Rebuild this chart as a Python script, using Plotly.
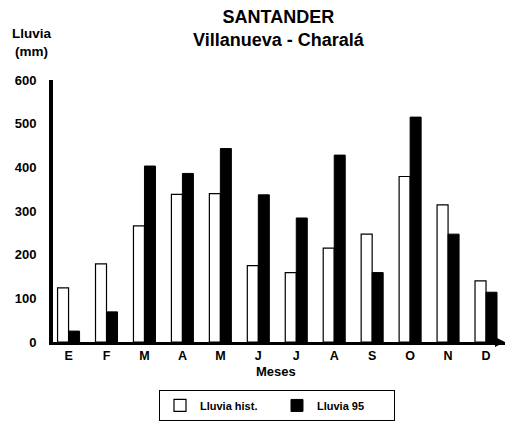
import plotly.graph_objects as go

meses = ["E", "F", "M", "A", "M", "J", "J", "A", "S", "O", "N", "D"]
lluvia_hist = [124, 179, 266, 338, 340, 175, 159, 215, 247, 379, 314, 140]
lluvia_95 = [25, 69, 403, 386, 443, 337, 284, 428, 159, 515, 247, 114]
y_ticks = [0, 100, 200, 300, 400, 500, 600]

x = list(range(len(meses)))
FONT = "Liberation Sans, Arial, sans-serif"

fig = go.Figure()
fig.add_trace(go.Bar(x=x, y=lluvia_hist, name="Lluvia hist.",
                     marker=dict(color="white", line=dict(color="black", width=1.2))))
fig.add_trace(go.Bar(x=x, y=lluvia_95, name="Lluvia 95",
                     marker=dict(color="black", line=dict(color="black", width=1))))

fig.update_layout(
    width=505, height=413,
    margin=dict(l=45, r=8, t=72, b=79, autoexpand=False),
    paper_bgcolor="white", plot_bgcolor="white",
    barmode="group", bargap=0.42, bargroupgap=0.0,
    font=dict(family=FONT, color="black", weight="bold"),
    showlegend=True,
    legend=dict(orientation="h", x=0.2345, y=-0.183, xanchor="left", yanchor="top",
                bordercolor="black", borderwidth=1, font=dict(size=11, weight="bold"),
                itemwidth=30, entrywidth=72, bgcolor="white"),
    annotations=[
        dict(text="SANTANDER<br>Villanueva - Charalá", xref="paper", yref="paper",
             x=0.5, y=1, yshift=75, showarrow=False, align="center",
             yanchor="top", font=dict(size=18, weight="bold")),
        dict(text="Lluvia<br>(mm)", xref="paper", yref="paper", x=0, y=1,
             xanchor="center", xshift=-21, yshift=56, showarrow=False, align="center",
             yanchor="top", font=dict(size=13.5, weight="bold")),
        dict(text="Meses", xref="paper", yref="paper", x=0.5, y=0, xshift=-3, yshift=-20,
             showarrow=False, yanchor="top", font=dict(size=13, weight="bold")),
        dict(text="", xref="paper", yref="paper", x=1, y=0, ax=-8, ay=0,
             showarrow=True, arrowhead=2, arrowsize=1, arrowwidth=2, arrowcolor="black"),
    ],
)
fig.update_xaxes(range=[-0.41, 11.5], tickvals=x, ticktext=meses, showline=True,
                 linecolor="black", linewidth=3, ticks="inside", tickson="boundaries",
                 ticklen=3, tickwidth=1, tickcolor="black", showgrid=False, zeroline=False,
                 ticklabelstandoff=0, tickfont=dict(size=12.5, weight="bold"))
fig.update_yaxes(range=[0, 600], tickvals=y_ticks, showline=True, linecolor="black",
                 linewidth=4, ticks="", showgrid=False, zeroline=False,
                 ticklabelstandoff=10, tickfont=dict(size=13, weight="bold"))

fig.write_html("out.html")
